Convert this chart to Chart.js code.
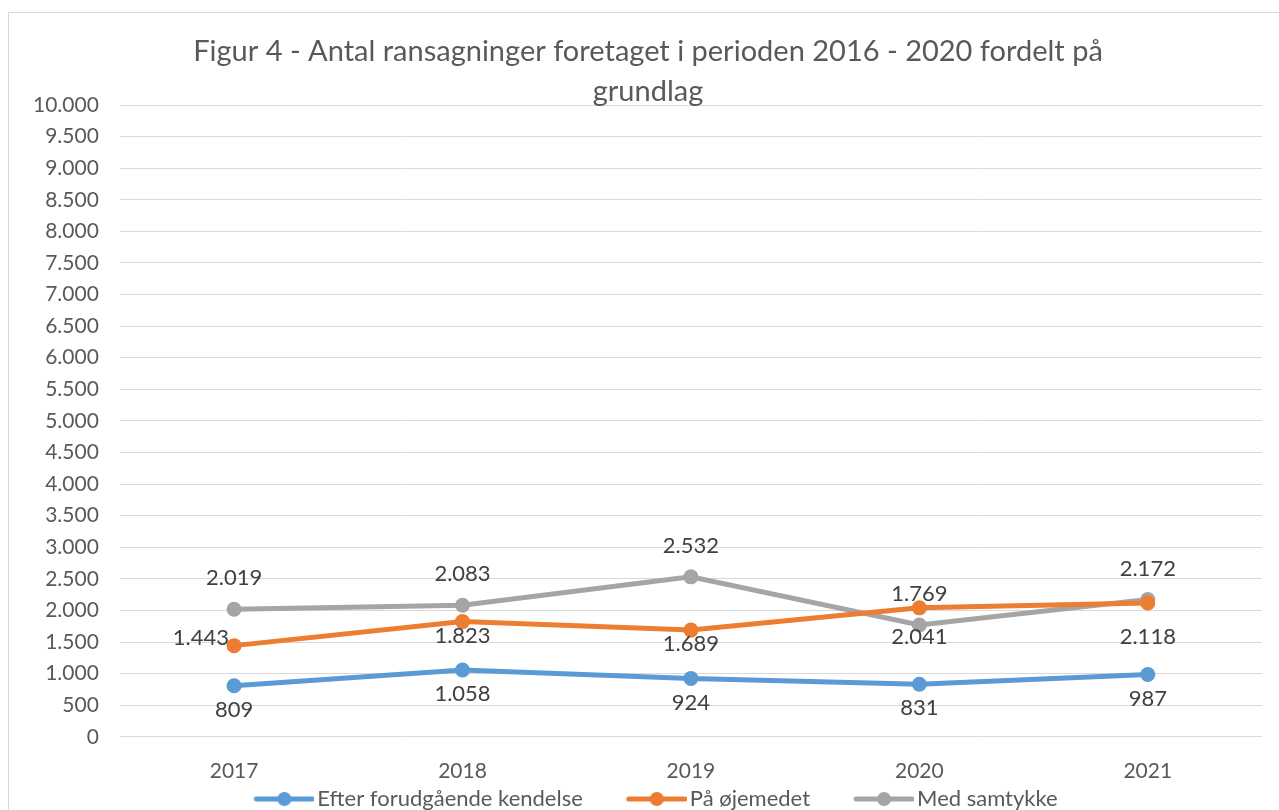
<!DOCTYPE html>
<html>
<head>
<meta charset="utf-8">
<script src="https://cdn.jsdelivr.net/npm/chart.js@4"></script>
<style>
  html, body { margin: 0; padding: 0; background: #fff; overflow: hidden; }
  #wrap { position: relative; width: 1279px; height: 810px; }
</style>
</head>
<body>
<div id="wrap"><canvas id="searchChart"></canvas></div>
<script>
  // data
  const years = ['2017', '2018', '2019', '2020', '2021'];
  const efterKendelse = [809, 1058, 924, 831, 987];
  const paaOjemedet = [1443, 1823, 1689, 2041, 2118];
  const medSamtykke = [2019, 2083, 2532, 1769, 2172];
  const yMin = 0, yMax = 10000, yStep = 500;
  const titleLines = ['Figur 4 - Antal ransagninger foretaget i perioden 2016 - 2020 fordelt på', 'grundlag'];

  const FONT = 'Lato, "Open Sans", sans-serif';
  const fmt = v => String(v).replace(/\B(?=(\d{3})+(?!\d))/g, '.');

  // legend icon: blank space on the left acts as the gap between items
  const ICON_BOX = 90;
  function legendIcon(color) {
    const c = document.createElement('canvas');
    c.width = ICON_BOX + 16; c.height = 16;
    const g = c.getContext('2d');
    g.strokeStyle = color; g.lineWidth = 5; g.lineCap = 'round';
    g.beginPath(); g.moveTo(48, 8); g.lineTo(104, 8); g.stroke();
    g.fillStyle = color;
    g.beginPath(); g.arc(76, 8, 7, 0, Math.PI * 2); g.fill();
    return c;
  }

  // frame + title drawn by hand (title overlaps the plot top like in Excel)
  const framePlugin = {
    id: 'frame',
    beforeDraw(chart) {
      const ctx = chart.ctx;
      ctx.save();
      ctx.strokeStyle = '#d9d9d9';
      ctx.lineWidth = 1;
      ctx.strokeRect(8.5, 12.5, 1400, 900);
      ctx.restore();
    },
    afterDraw(chart) {
      const ctx = chart.ctx;
      ctx.save();
      ctx.fillStyle = '#595959';
      ctx.font = '29px ' + FONT;
      ctx.textAlign = 'center';
      ctx.textBaseline = 'middle';
      ctx.fillText(titleLines[0], 648, 52);
      ctx.fillText(titleLines[1], 648, 92);
      ctx.restore();
    }
  };

  // value labels next to points
  const valueLabels = {
    id: 'valueLabels',
    afterDatasetsDraw(chart) {
      const ctx = chart.ctx;
      ctx.save();
      ctx.font = '22px ' + FONT;
      ctx.fillStyle = '#404040';
      ctx.textBaseline = 'middle';
      chart.data.datasets.forEach((ds, di) => {
        const meta = chart.getDatasetMeta(di);
        meta.data.forEach((pt, i) => {
          const o = (ds.labelNudge && ds.labelNudge[i]) || {};
          ctx.textAlign = o.align || 'center';
          ctx.fillText(fmt(ds.data[i]), pt.x + (o.dx || 0), pt.y + (o.dy !== undefined ? o.dy : ds.labelDy));
        });
      });
      ctx.restore();
    }
  };

  function drawChart() {
    const ctx = document.getElementById('searchChart').getContext('2d');
    const mk = (label, data, color, extra) => Object.assign({
      label: label,
      data: data,
      borderColor: color,
      backgroundColor: color,
      borderWidth: 5,
      pointRadius: 7.5,
      pointHoverRadius: 7.5,
      pointBorderWidth: 0,
      tension: 0
    }, extra);

    const datasets = [
      mk('Efter forudgående kendelse', efterKendelse, '#5B9BD5', { labelDy: 24 }),
      mk('På øjemedet', paaOjemedet, '#ED7D31', {
        labelDy: 14,
        labelNudge: { 0: { dx: -5, dy: -8, align: 'right' }, 3: { dy: 29 }, 4: { dy: 34 } }
      }),
      mk('Med samtykke', medSamtykke, '#A5A5A5', { labelDy: -31 })
    ];
    const icons = datasets.map(d => legendIcon(d.borderColor));

    new Chart(ctx, {
      type: 'line',
      data: { labels: years, datasets: datasets },
      options: {
        responsive: true,
        maintainAspectRatio: false,
        animation: false,
        layout: { padding: { top: 105, left: 12, right: 17, bottom: -10 } },
        scales: {
          x: {
            offset: true,
            grid: { display: false },
            border: { display: false },
            ticks: { color: '#595959', font: { family: FONT, size: 21 }, padding: 14 },
            afterFit(scale) { scale.height -= 16; }
          },
          y: {
            min: yMin,
            max: yMax,
            ticks: {
              stepSize: yStep,
              color: '#595959',
              font: { family: FONT, size: 21 },
              padding: 21,
              callback: v => fmt(v)
            },
            grid: { color: '#d9d9d9', lineWidth: 1, drawTicks: false },
            border: { display: false }
          }
        },
        plugins: {
          title: { display: false },
          tooltip: { enabled: false },
          legend: {
            position: 'bottom',
            labels: {
              usePointStyle: true,
              pointStyleWidth: ICON_BOX,
              boxHeight: 16,
              padding: 6,
              color: '#595959',
              font: { family: FONT, size: 22 },
              generateLabels(chart) {
                const items = Chart.defaults.plugins.legend.labels.generateLabels(chart);
                items.forEach((it, i) => { it.pointStyle = icons[i]; });
                return items;
              }
            }
          }
        }
      },
      plugins: [framePlugin, valueLabels]
    });
  }

  window.onload = drawChart;
</script>
</body>
</html>
